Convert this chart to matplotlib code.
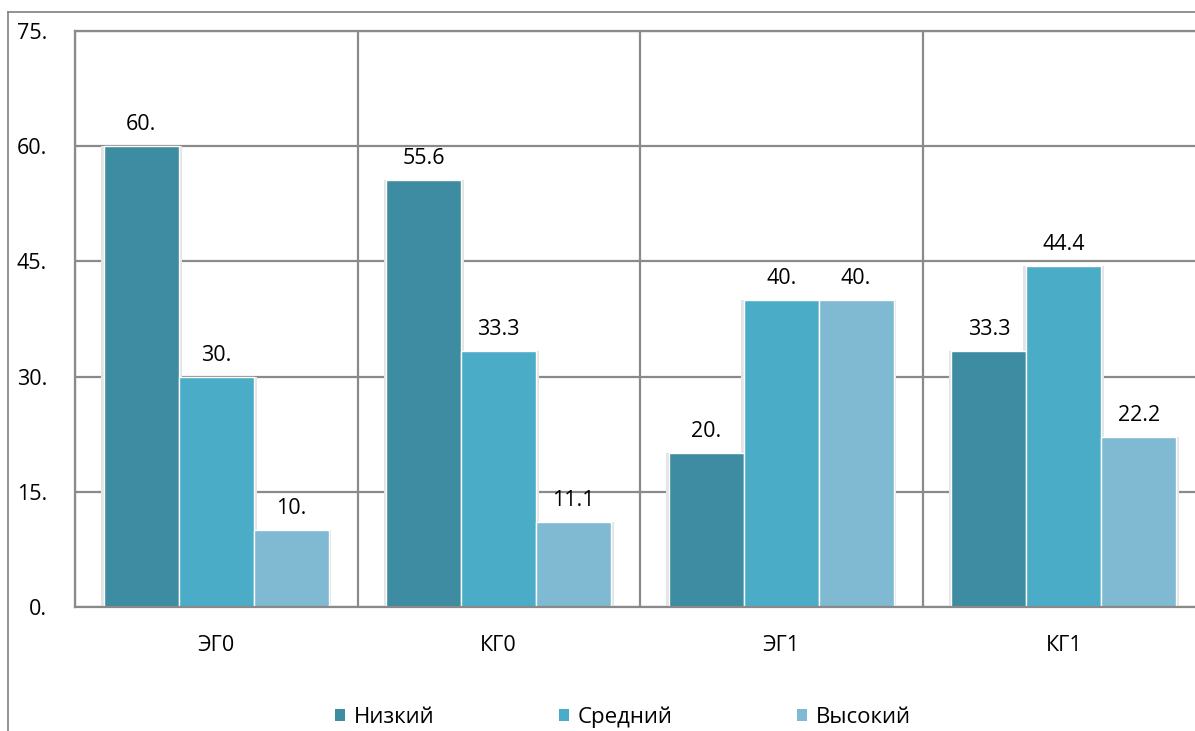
import matplotlib
matplotlib.use("Agg")
import matplotlib.pyplot as plt
from matplotlib.lines import Line2D
from matplotlib.patches import Patch
import numpy as np

# Data
groups = ["ЭГ0", "КГ0", "ЭГ1", "КГ1"]
levels = ["Низкий", "Средний", "Высокий"]
low = [60.0, 55.6, 20.0, 33.3]
medium = [30.0, 33.3, 40.0, 44.4]
high = [10.0, 11.1, 40.0, 22.2]
y_ticks = [0, 15, 30, 45, 60, 75]

colors = ["#3d8ca1", "#4aacc6", "#7fb9d2"]
grid_color = "#8a8a8a"

plt.rcParams["font.family"] = ["Open Sans", "DejaVu Sans"]

W, H = 1195, 731
fig = plt.figure(figsize=(W / 100, H / 100), dpi=100)
ax = fig.add_axes([75 / W, (H - 607) / H, 1130 / W, 576 / H])

x = np.arange(len(groups))
bw = 0.265
series = [low, medium, high]

for i, (vals, col) in enumerate(zip(series, colors)):
    pos = x + (i - 1) * bw
    # soft shadow behind each bar
    ax.bar(pos, vals, width=bw + 0.02, color="#e4e4e4", edgecolor="none", zorder=2)
    bars = ax.bar(pos, vals, width=bw, color=col, edgecolor="white",
                  linewidth=1.0, zorder=3)
    for b, v in zip(bars, vals):
        txt = f"{v:.0f}." if float(v).is_integer() else f"{v:.1f}"
        ax.annotate(txt, (b.get_x() + b.get_width() / 2, v),
                    xytext=(0, 11.5), textcoords="offset points",
                    ha="center", va="baseline", fontsize=15.5, color="black",
                    zorder=4)

ax.set_xlim(-0.5, len(groups) - 0.5)
ax.set_ylim(0, 75)
ax.set_yticks(y_ticks)
ax.set_yticklabels([f"{v}." for v in y_ticks])
ax.set_xticks(x)
ax.set_xticklabels(groups)
ax.set_xticks(np.arange(len(groups) + 1) - 0.5, minor=True)

ax.tick_params(axis="y", length=0, pad=20, labelsize=15.5)
ax.tick_params(axis="x", which="major", length=0, pad=20, labelsize=15.5)
ax.tick_params(axis="x", which="minor", length=0)

ax.grid(axis="y", which="major", color=grid_color, linewidth=1.6, zorder=1)
ax.grid(axis="x", which="minor", color=grid_color, linewidth=1.6, zorder=1)
ax.grid(axis="x", which="major", visible=False)

for side in ["left", "top", "bottom"]:
    ax.spines[side].set_color(grid_color)
    ax.spines[side].set_linewidth(1.6)
ax.spines["right"].set_visible(False)
ax.spines["bottom"].set_zorder(5)

# outer chart frame
fig.add_artist(Line2D([8 / W, 8 / W], [0, 1 - 12 / H], color=grid_color,
                      linewidth=1.3, transform=fig.transFigure))
fig.add_artist(Line2D([8 / W, 1], [1 - 12 / H, 1 - 12 / H], color=grid_color,
                      linewidth=1.3, transform=fig.transFigure))

handles = [Patch(facecolor=c, edgecolor="none") for c in colors]
fig.legend(handles, levels, loc="center", bbox_to_anchor=(623 / W, 1 - 717 / H),
           ncol=3, frameon=False, fontsize=16, handlelength=0.45,
           handleheight=0.45, handletextpad=0.4, columnspacing=5.6)

fig.savefig("out.png", dpi=100)
